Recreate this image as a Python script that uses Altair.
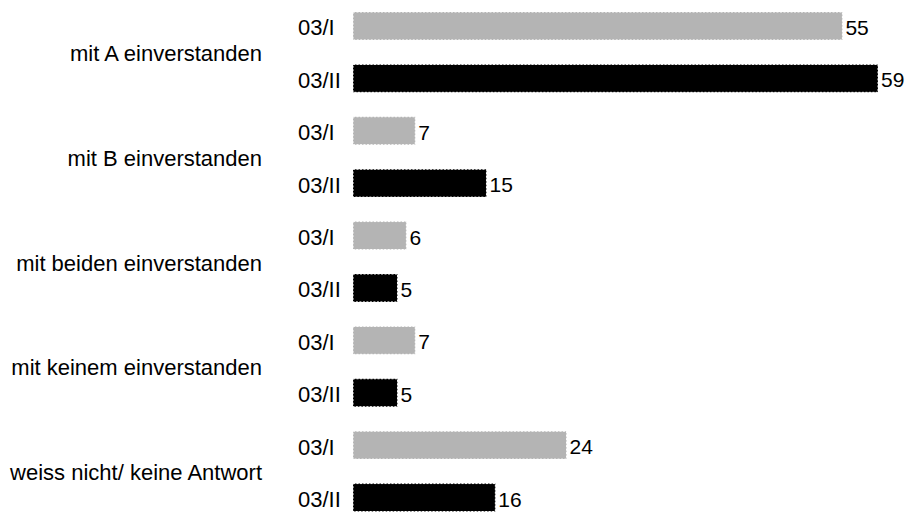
import altair as alt
import pandas as pd

categories = [
    "mit A einverstanden",
    "mit B einverstanden",
    "mit beiden einverstanden",
    "mit keinem einverstanden",
    "weiss nicht/ keine Antwort",
]
waves = ["03/I", "03/II"]
values_I = [55, 7, 6, 7, 24]
values_II = [59, 15, 5, 5, 16]
colors = ["#b4b4b4", "#000000"]

rows = []
for i, c in enumerate(categories):
    for w, vals in zip(waves, [values_I, values_II]):
        rows.append({"cat": c, "wave": w, "value": vals[i], "row": f"{i}-{w}",
                     "first": w == waves[0]})
df = pd.DataFrame(rows)
order = list(df["row"])

FONT = "Liberation Sans"
FS = 22

y = alt.Y("row:N", sort=order, axis=None,
          scale=alt.Scale(range=[4, 503.5], paddingInner=0.467, paddingOuter=0))
x = alt.X("value:Q", axis=None,
          scale=alt.Scale(domain=[0, 59], range=[345, 870], nice=False, zero=True))

base = alt.Chart(df)

bars = base.mark_bar(stroke="white", strokeDash=[2, 1.5], strokeWidth=1).encode(
    y=y, x=x,
    color=alt.Color("wave:N", scale=alt.Scale(domain=waves, range=colors), legend=None),
)

values = base.mark_text(align="left", baseline="alphabetic", font=FONT, fontSize=21,
                        dx=3, dy=9, color="#000000").encode(
    y=y, x=x, text="value:Q")

wave_labels = base.mark_text(align="left", baseline="alphabetic", font=FONT, fontSize=FS,
                             dy=9.5, color="#000000").encode(
    y=y, x=alt.value(290), text="wave:N")

cat_labels = base.transform_filter("datum.first").mark_text(
    align="right", baseline="alphabetic", font=FONT, fontSize=FS, dy=35, color="#000000"
).encode(y=y, x=alt.value(254), text="cat:N")

chart = alt.layer(bars, values, wave_labels, cat_labels).properties(
    width=897, height=505, padding=0, autosize=alt.AutoSizeParams(type="none"),
    background="white",
).configure_view(stroke=None)

chart.save("out.html", embed_options={"renderer": "svg", "actions": False})
